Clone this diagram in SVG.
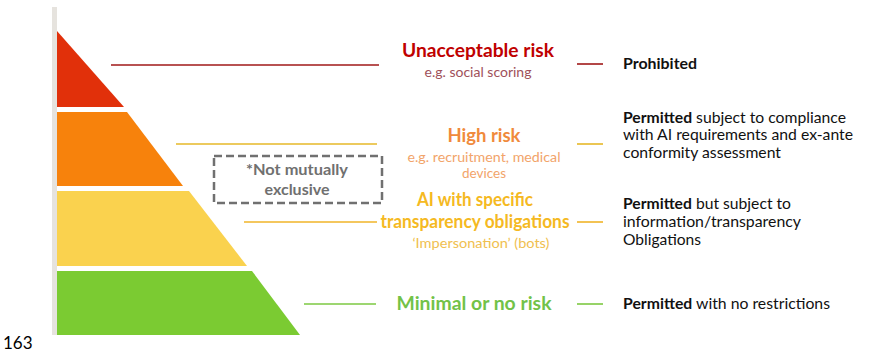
<svg xmlns="http://www.w3.org/2000/svg" width="883" height="353" viewBox="0 0 883 353">
<style>
text{font-family:Lato,"Open Sans","Liberation Sans",sans-serif}
.t{font-weight:bold;font-size:19px;text-anchor:middle}
.s{font-size:13.5px;text-anchor:middle}
.r{font-size:15px;fill:#111}
.b{font-weight:bold}
.ln{stroke-width:1.6;fill:none}
</style>
<rect width="883" height="353" fill="#fff"/>
<rect x="52" y="7" width="5" height="328" fill="#e6e3de"/>
<g id="pyramid">
<polygon id="tier-red" points="57,31 124,107 57,107" fill="#e1300a"/>
<polygon id="tier-orange" points="57,112 127,112 183,186 57,186" fill="#f7820c"/>
<polygon id="tier-yellow" points="57,191 189,191 247,266 57,266" fill="#fad24e"/>
<polygon id="tier-green" points="57,271 252,271 300,335 57,335" fill="#7bcb32"/>
</g>
<g id="connectors">
<line class="ln" x1="111" y1="65" x2="379" y2="65" stroke="#a01818"/>
<line class="ln" x1="577" y1="64" x2="603" y2="64" stroke="#a01818"/>
<line class="ln" x1="176" y1="144" x2="377" y2="144" stroke="#e6b828"/>
<line class="ln" x1="577" y1="144" x2="603" y2="144" stroke="#e6b828"/>
<line class="ln" x1="244" y1="222" x2="377" y2="222" stroke="#f0b429"/>
<line class="ln" x1="577" y1="222" x2="603" y2="222" stroke="#f0b429"/>
<line class="ln" x1="304" y1="304" x2="376" y2="304" stroke="#7dc842"/>
<line class="ln" x1="577" y1="304" x2="603" y2="304" stroke="#7dc842"/>
</g>
<g id="unacceptable">
<text class="t" x="478" y="57" fill="#c00000" textLength="152" lengthAdjust="spacingAndGlyphs">Unacceptable risk</text>
<text class="s" x="478" y="77" fill="#a0505a" textLength="107" lengthAdjust="spacingAndGlyphs">e.g. social scoring</text>
</g>
<g id="high">
<text class="t" x="484" y="142" fill="#f08a3c" textLength="73" lengthAdjust="spacingAndGlyphs">High risk</text>
<text class="s" x="484" y="162" fill="#f2a46a" textLength="153" lengthAdjust="spacingAndGlyphs">e.g. recruitment, medical</text>
<text class="s" x="484" y="178" fill="#f2a46a">devices</text>
</g>
<g id="transparency">
<text class="t" x="475" y="206" fill="#f5b922" font-size="18" textLength="116" lengthAdjust="spacingAndGlyphs">AI with specific</text>
<text class="t" x="475" y="228" fill="#f5b922" font-size="18" textLength="189" lengthAdjust="spacingAndGlyphs">transparency obligations</text>
<text class="s" x="481" y="248" fill="#f0c050" font-size="12.5" textLength="137" lengthAdjust="spacingAndGlyphs">‘Impersonation’ (bots)</text>
</g>
<g id="minimal">
<text class="t" x="474" y="310" fill="#72c248" textLength="155" lengthAdjust="spacingAndGlyphs">Minimal or no risk</text>
</g>
<g id="note">
<rect x="214" y="156" width="168" height="47" fill="none" stroke="#707070" stroke-width="2.5" stroke-dasharray="8 4"/>
<text x="297" y="175" font-size="15" font-weight="bold" fill="#707070" text-anchor="middle" textLength="102" lengthAdjust="spacingAndGlyphs">*Not mutually</text>
<text x="297" y="195" font-size="15" font-weight="bold" fill="#707070" text-anchor="middle" textLength="65" lengthAdjust="spacingAndGlyphs">exclusive</text>
</g>
<g id="outcomes">
<text class="r b" x="623" y="69" textLength="74" lengthAdjust="spacingAndGlyphs">Prohibited</text>
<text class="r" x="623" y="123" textLength="223" lengthAdjust="spacingAndGlyphs"><tspan class="b">Permitted</tspan> subject to compliance</text>
<text class="r" x="623" y="140" textLength="230" lengthAdjust="spacingAndGlyphs">with AI requirements and ex-ante</text>
<text class="r" x="623" y="158" textLength="158" lengthAdjust="spacingAndGlyphs">conformity assessment</text>
<text class="r" x="623" y="209" textLength="168" lengthAdjust="spacingAndGlyphs"><tspan class="b">Permitted</tspan> but subject to</text>
<text class="r" x="623" y="227" textLength="178" lengthAdjust="spacingAndGlyphs">information/transparency</text>
<text class="r" x="623" y="245" textLength="78" lengthAdjust="spacingAndGlyphs">Obligations</text>
<text class="r" x="623" y="309" textLength="207" lengthAdjust="spacingAndGlyphs"><tspan class="b">Permitted</tspan> with no restrictions</text>
</g>
<text x="3" y="349" font-family="'Liberation Serif',serif" font-size="17" fill="#000">163</text>
</svg>
